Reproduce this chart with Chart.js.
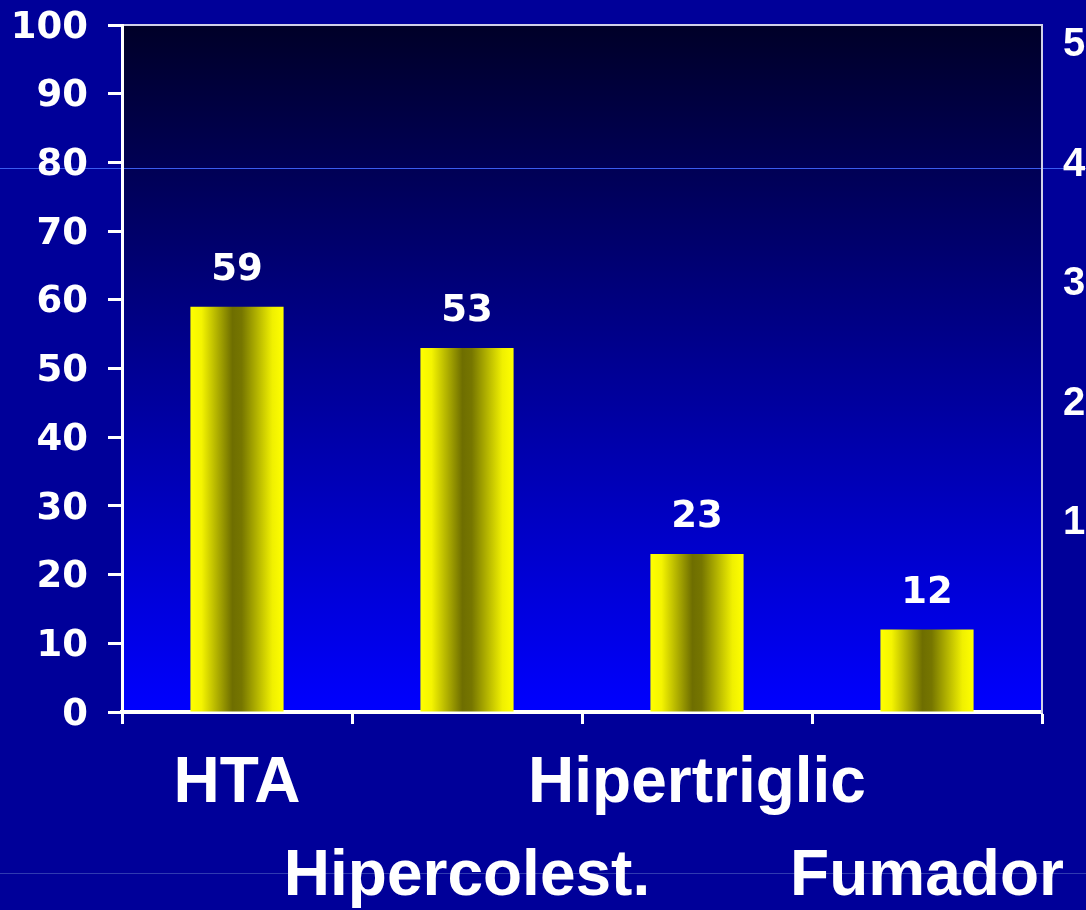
<!DOCTYPE html>
<html>
<head>
<meta charset="utf-8">
<script src="https://cdn.jsdelivr.net/npm/chart.js@4"></script>
<style>
  html, body { margin: 0; padding: 0; background: #000099; overflow: hidden; }
  canvas { display: block; }
</style>
</head>
<body>
<canvas id="graph" width="1086" height="910"></canvas>
<script>
const categories = ['HTA', 'Hipercolest.', 'Hipertriglic', 'Fumador'];
const values = [59, 53, 23, 12];
const rightLabels = [1, 2, 3, 4, 5];

// labels alternate between the first and second row
const labels = categories.map((c, i) => i % 2 === 0 ? [c, ''] : ['', c]);

const BAR_PCT = 0.405;

const plotBg = {
  id: 'plotBg',
  beforeDraw(chart) {
    const { ctx, chartArea: a, width, height } = chart;
    ctx.save();
    ctx.fillStyle = '#000099';
    ctx.fillRect(0, 0, width, height);
    const g = ctx.createLinearGradient(0, a.top, 0, a.bottom);
    g.addColorStop(0, '#000028');
    g.addColorStop(1, '#0000ff');
    ctx.fillStyle = g;
    ctx.fillRect(a.left, a.top, a.right - a.left, a.bottom - a.top);
    // stray lines from the slide
    ctx.fillStyle = '#3b5cf0';
    ctx.fillRect(0, 168, width, 1);
    ctx.fillStyle = '#2f3ab0';
    ctx.fillRect(0, 873, width, 1);
    // top frame
    ctx.fillStyle = '#d0d0e8';
    ctx.fillRect(a.left, a.top - 1, a.right - a.left, 2);
    ctx.restore();
  }
};

const valueLabels = {
  id: 'valueLabels',
  afterDatasetsDraw(chart) {
    const { ctx } = chart;
    const meta = chart.getDatasetMeta(0);
    ctx.save();
    ctx.fillStyle = '#ffffff';
    ctx.font = 'bold 37px "DejaVu Sans"';
    ctx.textAlign = 'center';
    ctx.textBaseline = 'alphabetic';
    meta.data.forEach((bar, i) => ctx.fillText(values[i], bar.x, bar.y - 27));
    ctx.restore();
  }
};

function barFill(c) {
  const chart = c.chart;
  const xs = chart.scales.x;
  if (!chart.chartArea || !xs) return '#ffff00';
  const cx = xs.getPixelForValue(c.dataIndex);
  const half = xs.width / categories.length * BAR_PCT / 2;
  const g = chart.ctx.createLinearGradient(cx - half, 0, cx + half, 0);
  g.addColorStop(0, '#ffff00');
  g.addColorStop(0.12, '#f4f400');
  g.addColorStop(0.45, '#6e6e00');
  g.addColorStop(0.55, '#767600');
  g.addColorStop(0.88, '#f0f000');
  g.addColorStop(1, '#ffff00');
  return g;
}

function noVertPad(s) {
  s.paddingTop = 0;
  s.paddingBottom = 0;
}

const graph = document.getElementById('graph').getContext('2d');
new Chart(graph, {
  type: 'bar',
  data: {
    labels: labels,
    datasets: [{
      data: values,
      backgroundColor: barFill,
      borderWidth: 0,
      barPercentage: BAR_PCT,
      categoryPercentage: 1
    }]
  },
  options: {
    responsive: false,
    devicePixelRatio: 1,
    animation: false,
    layout: { padding: { top: 25, left: 0, right: 0, bottom: 0 } },
    plugins: { legend: { display: false }, tooltip: { enabled: false } },
    scales: {
      x: {
        offset: true,
        grid: { offset: true, drawOnChartArea: false, drawTicks: true, tickLength: 12, tickWidth: 3, tickColor: '#ffffff' },
        border: { color: '#ffffff', width: 4 },
        ticks: {
          color: '#ffffff',
          font: { family: '"Liberation Sans", Arial, sans-serif', size: 64, weight: 'bold', lineHeight: 1.45 },
          padding: 14,
          maxRotation: 0,
          autoSkip: false
        },
        afterFit(s) { s.height = 198; s.paddingLeft = 0; s.paddingRight = 0; }
      },
      y: {
        min: 0,
        max: 100,
        ticks: {
          stepSize: 10,
          color: '#ffffff',
          font: { family: '"DejaVu Sans"', size: 37, weight: 'bold' },
          padding: 20,
          labelOffset: 3
        },
        grid: { drawOnChartArea: false, drawTicks: true, tickLength: 14, tickWidth: 3, tickColor: '#ffffff' },
        border: { color: '#ffffff', width: 3 },
        afterFit(s) { s.width = 122; noVertPad(s); }
      },
      y2: {
        position: 'right',
        min: -0.58,
        max: 5.167,
        grid: { display: false, drawOnChartArea: false },
        border: { color: '#d0d0e8', width: 2 },
        ticks: {
          color: '#ffffff',
          font: { family: '"Liberation Sans", Arial, sans-serif', size: 40, weight: 'bold' },
          padding: 13
        },
        afterBuildTicks(s) { s.ticks = rightLabels.map(v => ({ value: v })); },
        afterFit(s) { s.width = 44; noVertPad(s); }
      }
    }
  },
  plugins: [plotBg, valueLabels]
});
</script>
</body>
</html>
